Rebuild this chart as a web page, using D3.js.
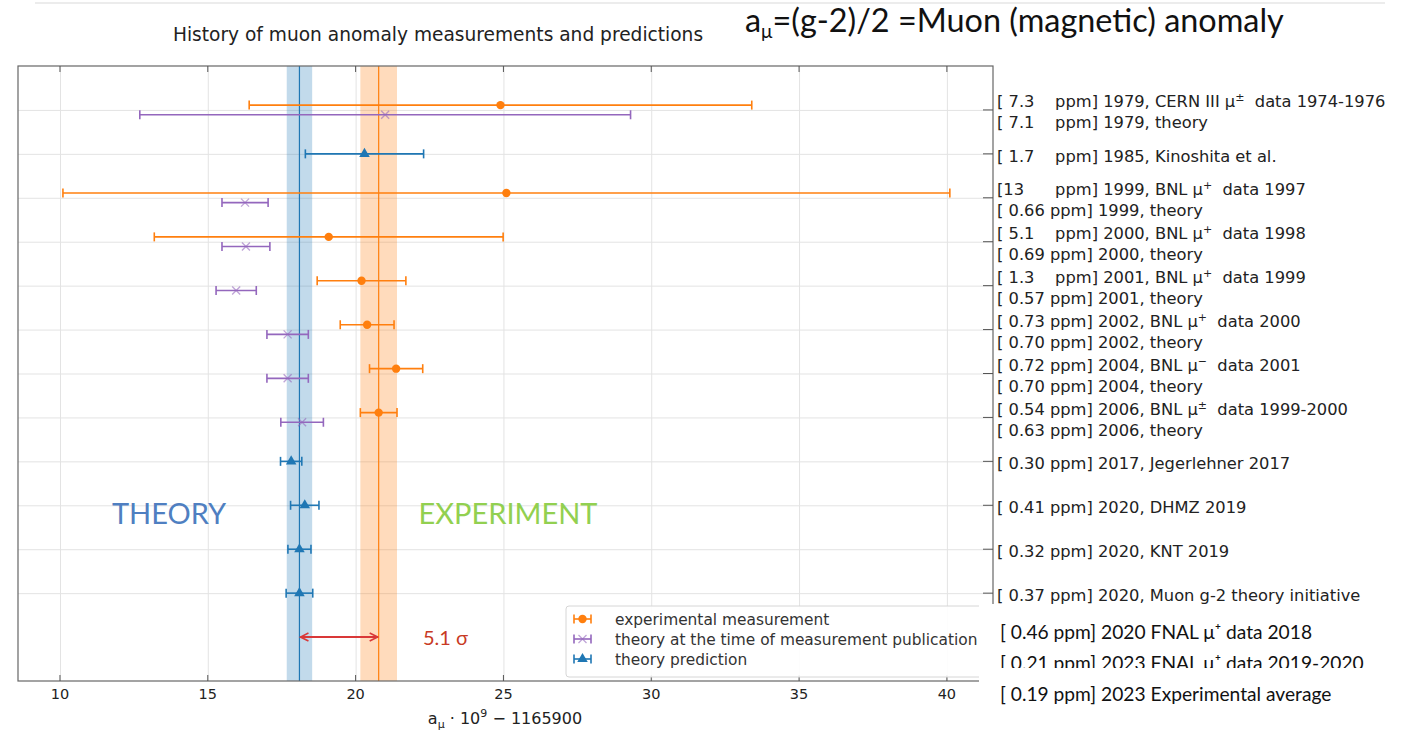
<!DOCTYPE html>
<html>
<head>
<meta charset="utf-8">
<script src="https://cdn.jsdelivr.net/npm/d3@7"></script>
<style>
  html, body { margin: 0; padding: 0; background: #fff; }
  svg text { white-space: pre; }
</style>
</head>
<body>
<div id="chart"></div>
<script>
// ---- data ----
// experimental measurements (orange circles)
const expRows = [0, 2, 3, 4, 5, 6, 7];
const expVals = [24.9, 25.1, 19.09, 20.2, 20.39, 21.37, 20.78];
const expErrs = [8.5, 15.0, 5.9, 1.5, 0.91, 0.9, 0.62];

// theory at the time of the measurement (purple crosses)
const thRows = [0, 2, 3, 4, 5, 6, 7];
const thVals = [21.0, 16.26, 16.29, 15.96, 17.7, 17.7, 18.19];
const thErrs = [8.3, 0.78, 0.81, 0.68, 0.7, 0.7, 0.72];

// theory predictions (blue triangles)
const predRows = [1, 8, 9, 10, 11];
const predVals = [20.3, 17.82, 18.28, 18.1, 18.1];
const predErrs = [2.0, 0.36, 0.48, 0.39, 0.45];

// reference bands: theory initiative and experiment
const bandTheory = [18.1, 0.43];
const bandExp = [20.78, 0.62];
const sigmaText = "5.1 σ";

const xTicks = [10, 15, 20, 25, 30, 35, 40];
const yTicks = [0, 1, 2, 3, 4, 5, 6, 7, 8, 9, 10, 11];

// right-hand tick labels, one entry per row (^x marks a superscript)
const rowLabels = [
  ["[ 7.3    ppm] 1979, CERN III μ^±  data 1974-1976", "[ 7.1    ppm] 1979, theory"],
  ["[ 1.7    ppm] 1985, Kinoshita et al."],
  ["[13      ppm] 1999, BNL μ^+  data 1997", "[ 0.66 ppm] 1999, theory"],
  ["[ 5.1    ppm] 2000, BNL μ^+  data 1998", "[ 0.69 ppm] 2000, theory"],
  ["[ 1.3    ppm] 2001, BNL μ^+  data 1999", "[ 0.57 ppm] 2001, theory"],
  ["[ 0.73 ppm] 2002, BNL μ^+  data 2000", "[ 0.70 ppm] 2002, theory"],
  ["[ 0.72 ppm] 2004, BNL μ^−  data 2001", "[ 0.70 ppm] 2004, theory"],
  ["[ 0.54 ppm] 2006, BNL μ^±  data 1999-2000", "[ 0.63 ppm] 2006, theory"],
  ["[ 0.30 ppm] 2017, Jegerlehner 2017"],
  ["[ 0.41 ppm] 2020, DHMZ 2019"],
  ["[ 0.32 ppm] 2020, KNT 2019"],
  ["[ 0.37 ppm] 2020, Muon g-2 theory initiative"]
];

// lines typed on the slide over the cropped plot
const slideLines = [
  "[ 0.46 ppm] 2020 FNAL μ⁺ data 2018",
  "[ 0.21 ppm] 2023 FNAL μ⁺ data 2019-2020",
  "[ 0.19 ppm] 2023 Experimental average"
];

const legendLabels = [
  "experimental measurement",
  "theory at the time of measurement publication",
  "theory prediction"
];

// ---- drawing ----
const W = 1408, H = 731;
const MPL = "'DejaVu Sans', sans-serif";
const SLIDE = "Lato, 'Open Sans', sans-serif";
const C_EXP = "#ff7f0e", C_TH = "#9467bd", C_PRED = "#1f77b4";

const plot = { left: 18, right: 993, top: 66, bottom: 681 };

const svg = d3.select("#chart").append("svg")
  .attr("width", W).attr("height", H)
  .attr("viewBox", `0 0 ${W} ${H}`);

const x = d3.scaleLinear().domain([8.58, 41.56]).range([plot.left, plot.right]);
const y = d3.scaleLinear().domain([-1, 13]).range([plot.top, plot.bottom]);

// faint slide header rule
svg.append("line")
  .attr("x1", 35).attr("x2", 1385).attr("y1", 3).attr("y2", 3)
  .attr("stroke", "#ececec").attr("stroke-width", 2);

// chart title
svg.append("text")
  .attr("x", 438).attr("y", 41)
  .attr("text-anchor", "middle")
  .attr("font-family", MPL).attr("font-size", 18.6)
  .attr("fill", "#222")
  .text("History of muon anomaly measurements and predictions");

const g = svg.append("g");

// gridlines
g.append("g")
  .attr("transform", `translate(0,${plot.bottom})`)
  .call(d3.axisBottom(x).tickValues(xTicks).tickSize(-(plot.bottom - plot.top)).tickFormat(""))
  .call(a => a.select(".domain").remove())
  .call(a => a.selectAll(".tick line").attr("stroke", "#e3e3e3"));
g.append("g")
  .attr("transform", `translate(${plot.left},0)`)
  .call(d3.axisRight(y).tickValues(yTicks).tickSize(plot.right - plot.left).tickFormat(""))
  .call(a => a.select(".domain").remove())
  .call(a => a.selectAll(".tick line").attr("stroke", "#e3e3e3"));

// theory and experiment bands
g.append("rect")
  .attr("x", x(bandTheory[0] - bandTheory[1]))
  .attr("width", x(bandTheory[0] + bandTheory[1]) - x(bandTheory[0] - bandTheory[1]))
  .attr("y", plot.top).attr("height", plot.bottom - plot.top)
  .attr("fill", C_PRED).attr("opacity", 0.27);
g.append("rect")
  .attr("x", x(bandExp[0] - bandExp[1]))
  .attr("width", x(bandExp[0] + bandExp[1]) - x(bandExp[0] - bandExp[1]))
  .attr("y", plot.top).attr("height", plot.bottom - plot.top)
  .attr("fill", C_EXP).attr("opacity", 0.28);
g.append("line")
  .attr("x1", x(bandTheory[0])).attr("x2", x(bandTheory[0]))
  .attr("y1", plot.top).attr("y2", plot.bottom)
  .attr("stroke", C_PRED).attr("stroke-width", 1.2);
g.append("line")
  .attr("x1", x(bandExp[0])).attr("x2", x(bandExp[0]))
  .attr("y1", plot.top).attr("y2", plot.bottom)
  .attr("stroke", C_EXP).attr("stroke-width", 1.2);

// error bar helper
function errorBars(rows, vals, errs, dy, color, marker) {
  const pts = rows.map((r, i) => ({ r: r + dy, v: vals[i], e: errs[i] }));
  const grp = g.append("g").attr("stroke", color).attr("fill", color);
  grp.selectAll(".bar").data(pts).join("line")
    .attr("x1", d => x(d.v - d.e)).attr("x2", d => x(d.v + d.e))
    .attr("y1", d => y(d.r)).attr("y2", d => y(d.r))
    .attr("stroke-width", 1.6);
  grp.selectAll(".capl").data(pts).join("line")
    .attr("x1", d => x(d.v - d.e)).attr("x2", d => x(d.v - d.e))
    .attr("y1", d => y(d.r) - 4.5).attr("y2", d => y(d.r) + 4.5)
    .attr("stroke-width", 1.6);
  grp.selectAll(".capr").data(pts).join("line")
    .attr("x1", d => x(d.v + d.e)).attr("x2", d => x(d.v + d.e))
    .attr("y1", d => y(d.r) - 4.5).attr("y2", d => y(d.r) + 4.5)
    .attr("stroke-width", 1.6);
  drawMarkers(grp, pts.map(d => [x(d.v), y(d.r)]), marker, color);
}

function drawMarkers(grp, xy, marker, color) {
  if (marker === "o") {
    grp.selectAll(".m").data(xy).join("circle")
      .attr("cx", d => d[0]).attr("cy", d => d[1]).attr("r", 4.2)
      .attr("stroke", "none").attr("fill", color);
  } else if (marker === "x") {
    grp.selectAll(".m").data(xy).join("path")
      .attr("d", d => `M${d[0]-4},${d[1]-4}L${d[0]+4},${d[1]+4}M${d[0]-4},${d[1]+4}L${d[0]+4},${d[1]-4}`)
      .attr("stroke", color).attr("stroke-opacity", 0.6).attr("stroke-width", 1.3).attr("fill", "none");
  } else {
    grp.selectAll(".m").data(xy).join("path")
      .attr("d", d3.symbol().type(d3.symbolTriangle).size(48))
      .attr("transform", d => `translate(${d[0]},${d[1]})`)
      .attr("stroke", "none").attr("fill", color);
  }
}

errorBars(thRows, thVals, thErrs, 0.11, C_TH, "x");
errorBars(expRows, expVals, expErrs, -0.11, C_EXP, "o");
errorBars(predRows, predVals, predErrs, 0, C_PRED, "^");

// frame
g.append("rect")
  .attr("x", plot.left).attr("y", plot.top)
  .attr("width", plot.right - plot.left).attr("height", plot.bottom - plot.top)
  .attr("fill", "none").attr("stroke", "#666").attr("stroke-width", 1.2);

// inward ticks: top and bottom for x, right for y
g.append("g").selectAll("line").data(xTicks).join("line")
  .attr("x1", d => x(d)).attr("x2", d => x(d))
  .attr("y1", plot.top).attr("y2", plot.top + 6)
  .attr("stroke", "#555");
g.append("g").selectAll("line").data(xTicks).join("line")
  .attr("x1", d => x(d)).attr("x2", d => x(d))
  .attr("y1", plot.bottom).attr("y2", plot.bottom - 6)
  .attr("stroke", "#555");
g.append("g").selectAll("line").data(yTicks).join("line")
  .attr("x1", plot.right - 10).attr("x2", plot.right)
  .attr("y1", d => y(d)).attr("y2", d => y(d))
  .attr("stroke", "#555");

// x tick labels
g.append("g").selectAll("text").data(xTicks).join("text")
  .attr("x", d => x(d)).attr("y", plot.bottom + 18)
  .attr("text-anchor", "middle")
  .attr("font-family", MPL).attr("font-size", 14.5).attr("fill", "#222")
  .text(d => d);

// x axis title
const xt = svg.append("text")
  .attr("x", 505).attr("y", 724).attr("text-anchor", "middle")
  .attr("font-family", MPL).attr("font-size", 16).attr("fill", "#222");
xt.append("tspan").text("a");
xt.append("tspan").attr("dy", 4).attr("font-size", 11).text("μ");
xt.append("tspan").attr("dy", -4).text(" · 10");
xt.append("tspan").attr("dy", -7).attr("font-size", 11).text("9");
xt.append("tspan").attr("dy", 7).text(" − 1165900");

// right tick labels (multi-line, centred on tick); superscripts lift and drop back
function labelLine(sel, str) {
  let pending = 0;
  str.split(/(\^.)/).forEach(part => {
    if (!part) return;
    if (part.startsWith("^")) {
      sel.append("tspan").attr("dy", -6).attr("font-size", 11).text(part.slice(1));
      pending = 6;
    } else {
      sel.append("tspan").attr("dy", pending || null).text(part);
      pending = 0;
    }
  });
}
const lab = g.append("g")
  .attr("font-family", MPL).attr("font-size", 16.3).attr("fill", "#222");
rowLabels.forEach((lines, i) => {
  const n = lines.length;
  lines.forEach((ln, j) => {
    const t = lab.append("text")
      .attr("x", plot.right + 4)
      .attr("y", y(yTicks[i]) + (j - (n - 1) / 2) * 21 + 8);
    labelLine(t, ln);
  });
});

// legend
const lg = svg.append("g").attr("transform", "translate(566,606)");
lg.append("rect").attr("width", 440).attr("height", 71).attr("rx", 3)
  .attr("fill", "#fff").attr("fill-opacity", 0.9).attr("stroke", "#d6d6d6");
const legMarks = [["o", C_EXP], ["x", C_TH], ["^", C_PRED]];
legendLabels.forEach((txt, i) => {
  const cy = 13 + i * 20;
  const row = lg.append("g").attr("stroke", legMarks[i][1]).attr("fill", legMarks[i][1]);
  row.append("line").attr("x1", 8).attr("x2", 25).attr("y1", cy).attr("y2", cy).attr("stroke-width", 1.6);
  row.append("line").attr("x1", 8).attr("x2", 8).attr("y1", cy - 4.5).attr("y2", cy + 4.5).attr("stroke-width", 1.6);
  row.append("line").attr("x1", 25).attr("x2", 25).attr("y1", cy - 4.5).attr("y2", cy + 4.5).attr("stroke-width", 1.6);
  drawMarkers(row, [[16.5, cy]], legMarks[i][0], legMarks[i][1]);
  lg.append("text").attr("x", 49).attr("y", cy + 5.5)
    .attr("font-family", MPL).attr("font-size", 15.4).attr("fill", "#333")
    .text(txt);
});

// slide overlay: white box covering the plot corner
svg.append("rect").attr("x", 979).attr("y", 604).attr("width", W - 979).attr("height", H - 604)
  .attr("fill", "#fff");

// headline
const hd = svg.append("text")
  .attr("x", 745).attr("y", 32)
  .attr("font-family", SLIDE).attr("font-size", 32.4).attr("fill", "#111");
hd.append("tspan").text("a");
hd.append("tspan").attr("dy", 6).attr("font-size", 19).text("μ");
hd.append("tspan").attr("dy", -6).text("=(g-2)/2 =Muon (magnetic) anomaly");

// FNAL / average lines, the middle one clipped by the box below it
const slideY = [639, 670, 701];
slideLines.forEach((s, i) => {
  if (i === 2) {
    svg.append("rect").attr("x", 995).attr("y", 668).attr("width", 400).attr("height", 14).attr("fill", "#fff");
  }
  svg.append("text").attr("x", 1000).attr("y", slideY[i])
    .attr("font-family", SLIDE).attr("font-size", 19.2).attr("fill", "#111")
    .text(s);
});

// THEORY / EXPERIMENT annotations
svg.append("text").attr("x", 169).attr("y", 524).attr("text-anchor", "middle")
  .attr("font-family", SLIDE).attr("font-size", 29).attr("fill", "#4f7fc1")
  .text("THEORY");
svg.append("text").attr("x", 508).attr("y", 524).attr("text-anchor", "middle")
  .attr("font-family", SLIDE).attr("font-size", 29).attr("fill", "#92d050")
  .text("EXPERIMENT");

// 5.1 sigma arrow between the two bands
const defs = svg.append("defs");
defs.append("marker").attr("id", "ah").attr("viewBox", "0 0 10 10")
  .attr("refX", 9).attr("refY", 5).attr("markerWidth", 5).attr("markerHeight", 5)
  .attr("orient", "auto-start-reverse")
  .append("path").attr("d", "M1,1L9,5L1,9").attr("fill", "none")
  .attr("stroke", "#d93838").attr("stroke-width", 1.6);
svg.append("line")
  .attr("x1", x(bandTheory[0]) + 1).attr("x2", x(bandExp[0]) - 1)
  .attr("y1", y(12)).attr("y2", y(12))
  .attr("stroke", "#d93838").attr("stroke-width", 2)
  .attr("marker-start", "url(#ah)").attr("marker-end", "url(#ah)");
svg.append("text").attr("x", 423).attr("y", y(12) + 8)
  .attr("font-family", SLIDE).attr("font-size", 20).attr("fill", "#c83a24")
  .text(sigmaText);
</script>
</body>
</html>
